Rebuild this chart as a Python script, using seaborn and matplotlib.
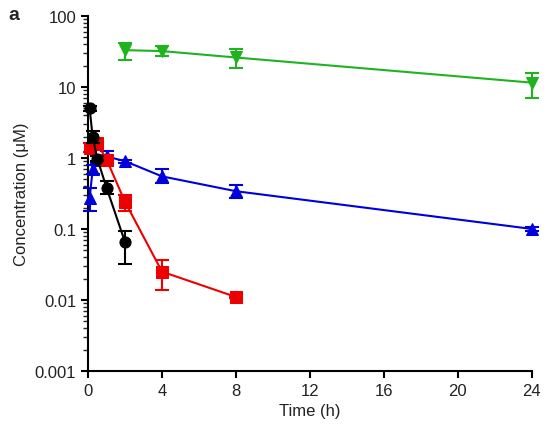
import matplotlib
matplotlib.use("Agg")
import matplotlib.pyplot as plt
import matplotlib.ticker as mticker
import seaborn as sns
import pandas as pd
import numpy as np

# values (time in h, concentration in uM)
time_green = [2, 4, 8, 24]
conc_green = [33, 32, 26, 11.5]
lo_green = [24, 27, 18.5, 7]
hi_green = [42, 38, 34, 15.5]

time_blue = [0.083, 0.25, 0.5, 1, 2, 4, 8, 24]
conc_blue = [0.27, 0.7, 0.95, 1.05, 0.9, 0.55, 0.34, 0.1]
lo_blue = [0.18, 0.6, 0.85, 0.9, 0.85, 0.44, 0.27, 0.095]
hi_blue = [0.38, 0.8, 1.05, 1.27, 0.95, 0.71, 0.42, 0.105]

time_red = [0.083, 0.5, 1, 2, 4, 8]
conc_red = [1.4, 1.6, 0.95, 0.24, 0.025, 0.011]
lo_red = [1.2, 1.3, 0.8, 0.18, 0.014, 0.0105]
hi_red = [1.6, 1.85, 1.1, 0.30, 0.036, 0.0115]

time_black = [0.083, 0.25, 0.5, 1, 2]
conc_black = [5.0, 1.95, 0.97, 0.38, 0.065]
lo_black = [4.6, 1.6, 0.9, 0.31, 0.032]
hi_black = [5.4, 2.4, 1.05, 0.48, 0.095]

x_ticks = [0, 4, 8, 12, 16, 20, 24]
y_ticks = [0.001, 0.01, 0.1, 1, 10, 100]
y_labels = ["0.001", "0.01", "0.1", "1", "10", "100"]

sns.set_style("ticks")
plt.rcParams["font.family"] = ["Liberation Sans", "DejaVu Sans"]
txt = "#222222"

fig = plt.figure(figsize=(5.54, 4.35), dpi=100)
ax = fig.add_axes([0.159, 0.145, 0.801, 0.816])

series = [
    (time_green, conc_green, lo_green, hi_green, "#1fb41f", "v"),
    (time_blue, conc_blue, lo_blue, hi_blue, "#0000dd", "^"),
    (time_red, conc_red, lo_red, hi_red, "#ee0000", "s"),
    (time_black, conc_black, lo_black, hi_black, "black", "o"),
]

for i, (t, c, lo, hi, col, mk) in enumerate(series):
    df = pd.DataFrame({"t": t, "c": c})
    c_arr = np.array(c)
    yerr = [c_arr - np.array(lo), np.array(hi) - c_arr]
    ax.errorbar(t, c, yerr=yerr, fmt="none", ecolor=col, elinewidth=1.5,
                capsize=5, capthick=1.5, zorder=2 + i, clip_on=False)
    sns.lineplot(data=df, x="t", y="c", ax=ax, color=col, marker=mk,
                 markersize=8, markeredgecolor=col, linewidth=1.5,
                 zorder=2 + i, clip_on=False)

ax.set_yscale("log")
ax.set_xlim(0, 24)
ax.set_ylim(0.001, 100)
ax.set_xticks(x_ticks)
ax.set_xticklabels([str(v) for v in x_ticks])
ax.set_yticks(y_ticks)
ax.set_yticklabels(y_labels)
ax.yaxis.set_minor_locator(mticker.LogLocator(base=10, subs=np.arange(2, 10)))
ax.yaxis.set_minor_formatter(mticker.NullFormatter())
ax.tick_params(axis="both", which="major", direction="out", length=5,
               width=1.5, labelsize=12, color="black", labelcolor=txt)
ax.tick_params(axis="y", which="minor", direction="out", length=3.5, width=1)
ax.set_xlabel("Time (h)", fontsize=12, color=txt)
ax.set_ylabel("Concentration (\u03bcM)", fontsize=12, color=txt)
sns.despine(ax=ax)
for s in ["left", "bottom"]:
    ax.spines[s].set_linewidth(1.5)
    ax.spines[s].set_color("black")

fig.text(0.015, 0.985, "a", fontsize=14, fontweight="bold", va="top", ha="left")

fig.savefig("out.png", dpi=100)
